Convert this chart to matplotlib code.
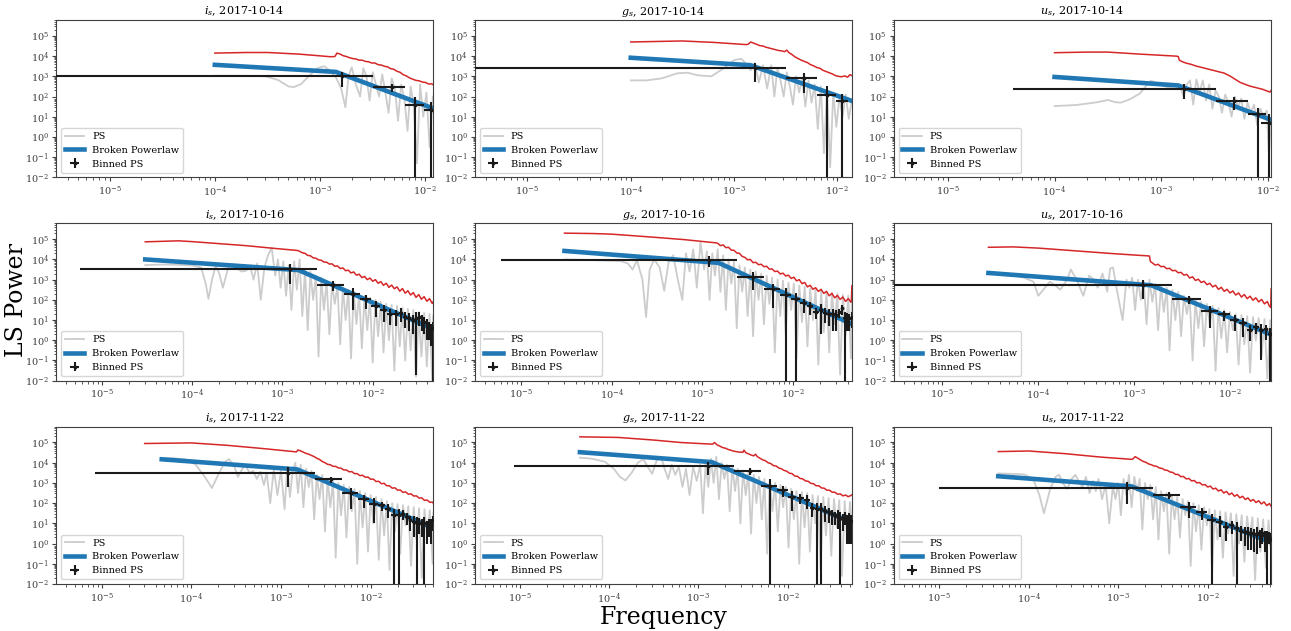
import numpy as np
import matplotlib.pyplot as plt
from matplotlib.ticker import LogLocator, NullFormatter

plt.rcParams.update({'font.family': 'serif',
                     'font.serif': ['DejaVu Serif'],
                     'mathtext.fontset': 'dejavuserif',
                     'xtick.labelsize': 7,
                     'ytick.labelsize': 7,
                     'legend.fontsize': 7,
                     'axes.titlesize': 8,
                     'axes.edgecolor': '0.25',
                     'xtick.color': '0.25',
                     'ytick.color': '0.25',
                     'axes.linewidth': 0.8})

# ---------------- data (log10 frequency / log10 power) ----------------
# 2017-10-14
ps_lf_i14 = [-4.00, -3.80, -3.60, -3.52, -3.40, -3.30, -3.25, -3.18, -3.10, -3.02, -2.96, -2.90, -2.85, -2.80,
             -2.76, -2.73, -2.70, -2.66, -2.62, -2.59, -2.56, -2.53, -2.50, -2.47, -2.44, -2.41, -2.38, -2.35,
             -2.32, -2.29, -2.26, -2.23, -2.20, -2.17, -2.14, -2.11, -2.08, -2.05, -2.02, -1.99, -1.96, -1.93]
ps_lp_i14 = [3.03, 3.03, 3.02, 3.00, 2.82, 2.50, 2.47, 2.62, 3.05, 3.42, 3.50, 3.25, 2.95, 2.40,
             1.47, 3.00, 3.45, 2.60, 2.00, 3.40, 3.00, 1.80, 3.20, 2.60, 2.00, 3.10, 2.20, 1.20,
             2.90, 2.40, 0.80, 2.60, 1.90, 0.30, 2.50, 1.50, -1.30, 2.60, 1.00, 2.20, -0.50, 2.00]
red_lf_i14 = [-4.00, -3.70, -3.50, -3.20, -2.90, -2.86, -2.84, -2.81, -2.78, -2.75, -2.72, -2.69, -2.66, -2.63,
              -2.60, -2.57, -2.54, -2.51, -2.48, -2.45, -2.42, -2.39, -2.36, -2.33, -2.30, -2.27, -2.24, -2.21,
              -2.18, -2.15, -2.12, -2.09, -2.06, -2.03, -2.00, -1.97, -1.94, -1.925]
red_lp_i14 = [4.15, 4.18, 4.18, 4.10, 3.97, 3.98, 4.15, 4.10, 4.02, 3.98, 3.92, 3.88, 3.86, 3.80,
              3.80, 3.74, 3.72, 3.66, 3.66, 3.58, 3.56, 3.50, 3.47, 3.38, 3.35, 3.25, 3.20, 3.08,
              3.02, 2.92, 2.86, 2.80, 2.78, 2.72, 2.70, 2.62, 2.63, 2.58]
bpl_lf_i14 = [-4.00, -2.85, -1.92]
bpl_lp_i14 = [3.57, 3.22, 1.40]
bin_f_i14 = [1.6, 4.8, 8.0, 11.2]        # 1e-3
bin_p_i14 = [1000, 300, 40, 22]
bin_e_i14 = [700, 125, 60, 34]

ps_lf_g14 = [-4.00, -3.85, -3.70, -3.55, -3.45, -3.35, -3.22, -3.10, -3.00, -2.93, -2.88, -2.84, -2.80, -2.76,
             -2.72, -2.68, -2.64, -2.61, -2.58, -2.55, -2.52, -2.49, -2.46, -2.43, -2.40, -2.37, -2.34, -2.31,
             -2.28, -2.25, -2.22, -2.19, -2.16, -2.13, -2.10, -2.07, -2.04, -2.01, -1.98, -1.95, -1.92, -1.89, -1.86]
ps_lp_g14 = [2.80, 2.80, 2.90, 3.15, 3.18, 3.05, 3.00, 3.40, 3.80, 3.87, 3.60, 3.30, 3.65, 2.70,
             3.55, 2.40, 3.55, 2.00, 3.40, 2.80, 2.00, 3.20, 2.50, 1.60, 3.00, 2.20, 2.90, 1.50,
             2.80, 1.70, 2.60, 0.40, 2.50, -0.80, 2.30, -1.50, 2.20, 0.50, 2.00, 1.00, 2.10, 0.90, 1.80]
red_lf_g14 = [-4.00, -3.70, -3.50, -3.20, -2.88, -2.86, -2.84, -2.81, -2.78, -2.75, -2.72, -2.69, -2.66, -2.63,
              -2.60, -2.57, -2.54, -2.51, -2.49, -2.47, -2.44, -2.41, -2.38, -2.35, -2.32, -2.29, -2.26, -2.23,
              -2.20, -2.17, -2.14, -2.11, -2.08, -2.05, -2.02, -1.99, -1.96, -1.93, -1.90, -1.88, -1.86]
red_lp_g14 = [4.70, 4.73, 4.75, 4.68, 4.57, 4.60, 4.70, 4.64, 4.58, 4.52, 4.50, 4.44, 4.40, 4.36,
              4.32, 4.28, 4.26, 4.22, 4.30, 4.18, 4.08, 3.96, 3.88, 3.80, 3.74, 3.68, 3.58, 3.52,
              3.44, 3.40, 3.30, 3.24, 3.18, 3.12, 3.04, 3.00, 2.98, 3.02, 2.96, 3.08, 3.04]
bpl_lf_g14 = [-4.00, -2.84, -1.857]
bpl_lp_g14 = [3.92, 3.55, 1.78]
bin_f_g14 = [1.6, 4.8, 8.0, 11.2]
bin_p_g14 = [2500, 800, 120, 60]
bin_e_g14 = [2000, 650, 200, 70]

ps_lf_u14 = [-4.00, -3.80, -3.60, -3.50, -3.43, -3.38, -3.30, -3.20, -3.15, -3.10, -3.05, -3.00, -2.93, -2.87,
             -2.82, -2.79, -2.76, -2.73, -2.70, -2.67, -2.64, -2.61, -2.58, -2.55, -2.52, -2.49, -2.46, -2.43,
             -2.40, -2.37, -2.34, -2.31, -2.28, -2.25, -2.22, -2.19, -2.16, -2.13, -2.10, -2.07, -2.04, -2.01,
             -1.99, -1.97]
ps_lp_u14 = [1.53, 1.58, 1.72, 1.83, 1.72, 1.70, 1.85, 2.15, 2.47, 2.78, 2.70, 2.55, 2.45, 2.50,
             2.45, 2.00, 2.60, 2.80, 1.60, 2.85, 2.20, 2.80, 1.80, 2.60, 1.40, 2.30, 2.00, 1.20,
             2.10, 1.70, 1.00, 2.00, 1.50, 1.90, 0.90, 1.70, 1.20, 1.60, 0.60, 1.40, 1.00, 1.30,
             -0.90, 0.80]
red_lf_u14 = [-4.00, -3.70, -3.50, -3.20, -2.86, -2.84, -2.83, -2.80, -2.77, -2.74, -2.71, -2.68, -2.65, -2.62,
              -2.59, -2.56, -2.53, -2.50, -2.47, -2.44, -2.41, -2.38, -2.35, -2.32, -2.29, -2.26, -2.23, -2.20,
              -2.17, -2.14, -2.11, -2.08, -2.05, -2.02, -1.99, -1.98, -1.97]
red_lp_u14 = [4.17, 4.20, 4.20, 4.10, 4.00, 3.98, 3.80, 3.72, 3.66, 3.62, 3.58, 3.52, 3.48, 3.44,
              3.40, 3.36, 3.32, 3.28, 3.24, 3.20, 3.16, 3.08, 3.00, 2.90, 2.80, 2.70, 2.64, 2.58,
              2.52, 2.48, 2.44, 2.40, 2.36, 2.30, 2.24, 2.22, 2.30]
bpl_lf_u14 = [-4.00, -2.84, -1.97]
bpl_lp_u14 = [2.97, 2.55, 0.85]
bin_f_u14 = [1.65, 4.85, 8.1, 10.2]
bin_p_u14 = [240, 60, 14, 5]
bin_e_u14 = [160, 38, 14, 8]

# 2017-10-16
ps_lf_i16 = [-4.52, -4.30, -4.10, -4.00, -3.90, -3.85, -3.82, -3.78, -3.74, -3.70, -3.66, -3.60, -3.55, -3.50,
             -3.45, -3.40, -3.36, -3.32, -3.28, -3.24, -3.20, -3.16, -3.12, -3.08, -3.05, -3.02, -2.99, -2.96,
             -2.93, -2.90, -2.87, -2.84, -2.81, -2.78, -2.75, -2.72, -2.69, -2.66, -2.63, -2.60, -2.57, -2.54,
             -2.51, -2.48, -2.45, -2.42, -2.39, -2.36, -2.33, -2.30, -2.27, -2.24, -2.21, -2.18, -2.15, -2.12,
             -2.09, -2.06, -2.03, -2.00, -1.97, -1.94, -1.91, -1.88, -1.85, -1.82, -1.79, -1.76, -1.73, -1.70,
             -1.67, -1.64, -1.61, -1.58, -1.55, -1.52, -1.49, -1.46, -1.43, -1.40, -1.37, -1.34, -1.33]
ps_lp_i16 = [3.72, 3.75, 3.72, 3.70, 3.60, 2.80, 2.05, 3.00, 3.70, 3.30, 2.60, 3.60, 3.78, 3.55,
             3.40, 3.45, 3.70, 3.00, 3.80, 2.00, 3.60, 4.20, 4.58, 3.20, 4.00, 2.60, 3.90, 2.20,
             3.70, 1.50, 3.90, 2.50, 4.00, 1.20, 3.50, 0.50, 3.40, 2.00, 3.20, -0.80, 3.10, 1.50,
             2.90, 0.30, 2.80, 1.80, 2.70, -0.20, 2.60, 1.00, 2.50, -0.90, 2.40, 0.80, 2.30, -0.40,
             2.20, 0.50, 2.10, -1.10, 2.00, 0.20, 1.90, -0.60, 1.80, 0.00, 1.75, -1.50, 1.70, -0.30,
             1.60, -1.00, 1.55, -0.50, 1.50, -1.80, 1.40, -0.80, 1.35, -1.30, 1.30, -2.00, 1.20]
red_lf_i16 = [-4.52, -4.30, -4.15, -4.00, -3.70, -3.40, -3.10, -2.85, -2.83, -2.81, -2.78, -2.75, -2.72, -2.69,
              -2.66, -2.63, -2.60, -2.57, -2.54, -2.51, -2.48, -2.45, -2.42, -2.39, -2.36, -2.33, -2.30, -2.27,
              -2.24, -2.21, -2.18, -2.15, -2.12, -2.09, -2.06, -2.03, -2.00, -1.97, -1.94, -1.91, -1.88, -1.85,
              -1.82, -1.79, -1.76, -1.73, -1.70, -1.67, -1.64, -1.61, -1.58, -1.55, -1.52, -1.49, -1.46, -1.43,
              -1.40, -1.37, -1.34, -1.33]
red_lp_i16 = [4.87, 4.90, 4.92, 4.88, 4.78, 4.68, 4.55, 4.45, 4.44, 4.40, 4.33, 4.30, 4.20, 4.18,
              4.08, 4.06, 3.98, 3.96, 3.87, 3.86, 3.77, 3.78, 3.66, 3.68, 3.55, 3.58, 3.44, 3.47,
              3.33, 3.38, 3.22, 3.27, 3.10, 3.16, 3.00, 3.08, 2.92, 3.00, 2.82, 2.90, 2.72, 2.82,
              2.62, 2.73, 2.55, 2.64, 2.43, 2.56, 2.33, 2.45, 2.24, 2.36, 2.12, 2.26, 2.03, 2.16,
              1.93, 2.06, 1.82, 1.90]
bpl_lf_i16 = [-4.52, -2.82, -1.33]
bpl_lp_i16 = [4.00, 3.47, 0.55]
bin_f_i16 = [1.215, 3.63, 6.05, 8.47, 10.9, 13.3, 15.7, 18.2, 20.6, 23.0, 25.4, 27.8, 30.3, 32.7,
             35.1, 37.5, 39.9, 42.3, 44.8, 47.0]
bin_p_i16 = [3200, 560, 200, 107, 50, 32, 21, 19, 23, 15, 13, 10, 12, 15, 10, 8, 6, 4.5, 3.5, 4]
bin_e_i16 = [2600, 300, 170, 70, 35, 24, 15, 14, 15, 11, 10, 8, 11.98, 10, 7, 6, 5, 3.5, 3, 3.99]

ps_lf_g16 = [-4.52, -4.30, -4.10, -3.90, -3.82, -3.77, -3.72, -3.66, -3.62, -3.58, -3.53, -3.47, -3.42, -3.37,
             -3.32, -3.27, -3.22, -3.18, -3.14, -3.10, -3.06, -3.02, -2.98, -2.95, -2.92, -2.89, -2.86, -2.83,
             -2.80, -2.77, -2.74, -2.71, -2.68, -2.65, -2.62, -2.59, -2.56, -2.53, -2.50, -2.47, -2.44, -2.41,
             -2.38, -2.35, -2.32, -2.29, -2.26, -2.23, -2.20, -2.17, -2.14, -2.11, -2.08, -2.05, -2.02, -1.99,
             -1.96, -1.93, -1.90, -1.87, -1.84, -1.81, -1.78, -1.75, -1.72, -1.69, -1.66, -1.63, -1.60, -1.57,
             -1.54, -1.51, -1.48, -1.45, -1.42, -1.39, -1.36, -1.35]
ps_lp_g16 = [4.00, 3.98, 3.95, 3.92, 3.80, 3.50, 3.95, 3.00, 1.15, 3.50, 4.00, 3.60, 2.45, 3.90,
             4.20, 3.00, 2.00, 4.30, 3.40, 4.50, 2.60, 4.85, 3.50, 4.40, 2.00, 4.30, 3.20, 4.50,
             2.40, 4.20, 1.50, 4.00, 2.80, 3.90, 0.60, 3.70, 2.40, 3.60, 1.20, 3.50, 0.20, 3.40,
             2.00, 3.30, 0.80, 3.20, 1.80, 3.10, -0.60, 3.00, 1.20, 2.95, 0.30, 2.85, 1.50, 2.80,
             -0.90, 2.70, 0.90, 2.65, -0.30, 2.55, 1.00, 2.50, -1.20, 2.45, 0.40, 2.40, -0.60, 2.35,
             0.80, 2.30, -1.70, 2.25, 0.20, 2.20, -0.90, 2.10]
red_lf_g16 = [-4.52, -4.20, -4.00, -3.60, -3.20, -2.85, -2.83, -2.80, -2.77, -2.74, -2.71, -2.68, -2.65, -2.62,
              -2.59, -2.56, -2.53, -2.50, -2.47, -2.44, -2.41, -2.38, -2.35, -2.32, -2.29, -2.26, -2.23, -2.20,
              -2.17, -2.14, -2.11, -2.08, -2.05, -2.02, -1.99, -1.96, -1.93, -1.90, -1.87, -1.84, -1.81, -1.78,
              -1.75, -1.72, -1.69, -1.66, -1.63, -1.60, -1.57, -1.54, -1.51, -1.48, -1.45, -1.42, -1.39, -1.36,
              -1.355, -1.35]
red_lp_g16 = [5.30, 5.28, 5.25, 5.12, 4.98, 4.82, 4.80, 4.68, 4.72, 4.58, 4.60, 4.46, 4.45, 4.32,
              4.30, 4.15, 4.10, 3.98, 4.00, 3.84, 3.86, 3.74, 3.76, 3.64, 3.66, 3.52, 3.53, 3.40,
              3.42, 3.28, 3.32, 3.18, 3.22, 3.06, 3.12, 2.94, 3.00, 2.80, 2.86, 2.64, 2.72, 2.52,
              2.60, 2.42, 2.52, 2.32, 2.42, 2.20, 2.32, 2.10, 2.22, 2.02, 2.14, 1.92, 2.06, 1.88,
              2.00, 2.70]
bpl_lf_g16 = [-4.52, -2.82, -1.35]
bpl_lp_g16 = [4.42, 3.83, 0.80]
bin_f_g16 = [1.2, 3.6, 6.0, 8.4, 10.8, 13.2, 15.6, 18.0, 20.4, 22.8, 25.2, 27.6, 30.0, 32.4,
             34.8, 37.2, 39.6, 42.0, 44.4]
bin_p_g16 = [9000, 1300, 340, 180, 107, 68, 47, 26, 32, 23, 20, 20, 17, 24, 38, 12, 13, 12, 14]
bin_e_g16 = [5000, 1000, 300, 185, 110, 45, 30, 15, 30, 16, 15, 17, 14, 12, 20, 11.99, 10, 9, 10]

ps_lf_u16 = [-4.52, -4.30, -4.15, -4.05, -4.00, -3.93, -3.88, -3.82, -3.77, -3.70, -3.66, -3.60, -3.53, -3.47,
             -3.42, -3.38, -3.33, -3.28, -3.25, -3.22, -3.18, -3.12, -3.08, -3.05, -3.02, -2.99, -2.96, -2.93,
             -2.90, -2.87, -2.84, -2.81, -2.78, -2.75, -2.72, -2.69, -2.66, -2.63, -2.60, -2.57, -2.54, -2.51,
             -2.48, -2.45, -2.42, -2.39, -2.36, -2.33, -2.30, -2.27, -2.24, -2.21, -2.18, -2.15, -2.12, -2.09,
             -2.06, -2.03, -2.00, -1.97, -1.94, -1.91, -1.88, -1.85, -1.82, -1.79, -1.76, -1.73, -1.70, -1.67,
             -1.64, -1.61, -1.58, -1.57]
ps_lp_u16 = [3.30, 3.25, 3.10, 2.90, 2.20, 2.60, 2.90, 2.70, 2.50, 3.00, 3.50, 3.00, 2.20, 3.20,
             3.00, 2.60, 3.30, 2.40, 3.55, 3.60, 2.50, 1.00, 3.00, 2.60, 3.10, 1.50, 3.00, 2.00,
             2.90, 0.80, 3.00, 1.90, 2.80, 0.50, 2.70, 1.40, 2.60, -0.50, 2.50, 1.00, 2.40, 0.20,
             2.20, 1.30, 2.10, -1.00, 2.00, 0.60, 1.90, -0.30, 1.80, 0.80, 1.70, -1.50, 1.60, 0.10,
             1.50, -0.60, 1.40, 0.50, 1.30, -1.20, 1.25, -0.20, 1.20, -1.60, 1.15, 0.00, 1.10, -0.80,
             1.05, -1.90, 1.00, 0.00]
red_lf_u16 = [-4.52, -4.26, -4.00, -3.60, -3.20, -2.84, -2.83, -2.81, -2.78, -2.75, -2.72, -2.69, -2.66, -2.63,
              -2.60, -2.57, -2.54, -2.51, -2.48, -2.45, -2.42, -2.39, -2.36, -2.33, -2.30, -2.27, -2.24, -2.21,
              -2.18, -2.15, -2.12, -2.09, -2.06, -2.03, -2.00, -1.97, -1.94, -1.91, -1.88, -1.85, -1.82, -1.79,
              -1.76, -1.73, -1.70, -1.67, -1.64, -1.61, -1.59, -1.575, -1.57]
red_lp_u16 = [4.60, 4.62, 4.56, 4.42, 4.28, 4.17, 3.90, 3.83, 3.72, 3.76, 3.64, 3.66, 3.54, 3.56,
              3.44, 3.46, 3.34, 3.36, 3.22, 3.26, 3.08, 3.14, 2.96, 3.02, 2.86, 2.92, 2.75, 2.82,
              2.64, 2.72, 2.52, 2.62, 2.42, 2.52, 2.34, 2.44, 2.24, 2.34, 2.14, 2.26, 2.06, 2.18,
              1.98, 2.10, 1.90, 2.02, 1.80, 1.92, 1.70, 1.62, 2.55]
bpl_lf_u16 = [-4.52, -2.82, -1.57]
bpl_lp_u16 = [3.33, 2.72, 0.28]
bin_f_u16 = [1.25, 3.75, 6.25, 8.75, 11.3, 13.8, 16.3, 18.8, 21.3, 23.8, 26.0]
bin_p_u16 = [560, 110, 28, 19, 10, 7, 3.4, 4.5, 3.4, 3.5, 2.0]
bin_e_u16 = [450, 50, 24, 10, 7, 5.5, 2.5, 2.5, 3.3, 2.5, 1.99]

# 2017-11-22
ps_lf_i22 = [-4.33, -4.20, -4.05, -3.95, -3.85, -3.77, -3.70, -3.63, -3.58, -3.52, -3.48, -3.43, -3.40, -3.35,
             -3.31, -3.27, -3.23, -3.19, -3.16, -3.12, -3.08, -3.04, -3.00, -2.96, -2.93, -2.90, -2.87, -2.84,
             -2.81, -2.78, -2.75, -2.72, -2.69, -2.66, -2.63, -2.60, -2.57, -2.54, -2.51, -2.48, -2.45, -2.42,
             -2.39, -2.36, -2.33, -2.30, -2.27, -2.24, -2.21, -2.18, -2.15, -2.12, -2.09, -2.06, -2.03, -2.00,
             -1.97, -1.94, -1.91, -1.88, -1.85, -1.82, -1.79, -1.76, -1.73, -1.70, -1.67, -1.64, -1.61, -1.58,
             -1.55, -1.52, -1.49, -1.46, -1.43, -1.40, -1.37, -1.34, -1.31, -1.30]
ps_lp_i22 = [4.20, 4.22, 4.15, 3.90, 3.30, 2.75, 3.40, 4.00, 4.18, 3.80, 3.30, 3.70, 3.90, 3.50,
             3.60, 3.20, 3.55, 2.90, 3.50, 2.00, 3.70, 2.40, 3.60, 1.70, 3.80, 2.30, 3.60, 4.00,
             2.50, 3.90, 1.80, 3.70, 2.80, 3.60, 1.20, 3.40, 2.20, 3.40, 0.60, 3.20, 1.80, 3.10,
             -0.70, 3.00, 1.40, 2.90, 0.30, 2.80, 1.60, 2.70, -1.00, 2.60, 0.80, 2.50, -0.40, 2.40,
             1.00, 2.30, -0.80, 2.20, 0.40, 2.10, -1.30, 2.00, 0.60, 1.95, -0.50, 1.90, 0.90, 1.85,
             -1.10, 1.80, 0.20, 1.75, -1.70, 1.70, 0.40, 1.65, -1.00, 1.55]
red_lf_i22 = [-4.52, -4.00, -3.60, -3.20, -2.86, -2.83, -2.81, -2.78, -2.75, -2.72, -2.69, -2.66, -2.63, -2.60,
              -2.57, -2.54, -2.51, -2.48, -2.45, -2.42, -2.39, -2.36, -2.33, -2.30, -2.27, -2.24, -2.21, -2.18,
              -2.15, -2.12, -2.09, -2.06, -2.03, -2.00, -1.97, -1.94, -1.91, -1.88, -1.85, -1.82, -1.79, -1.76,
              -1.73, -1.70, -1.67, -1.64, -1.61, -1.58, -1.55, -1.52, -1.49, -1.46, -1.43, -1.40, -1.37, -1.34,
              -1.31, -1.30]
red_lp_i22 = [4.95, 4.98, 4.86, 4.70, 4.55, 4.53, 4.63, 4.58, 4.52, 4.46, 4.42, 4.36, 4.30, 4.22,
              4.16, 4.06, 4.00, 3.92, 3.90, 3.82, 3.82, 3.74, 3.73, 3.64, 3.64, 3.55, 3.56, 3.46,
              3.46, 3.36, 3.38, 3.28, 3.29, 3.18, 3.19, 3.07, 3.08, 2.96, 2.98, 2.86, 2.86, 2.74,
              2.76, 2.64, 2.65, 2.53, 2.56, 2.44, 2.46, 2.35, 2.36, 2.25, 2.26, 2.14, 2.15, 2.04,
              2.05, 1.98]
bpl_lf_i22 = [-4.33, -2.82, -1.30]
bpl_lp_i22 = [4.17, 3.67, 0.78]
bin_f_i22 = [1.21, 3.62, 6.03, 8.44, 10.85, 13.26, 15.67, 18.08, 20.49, 22.9, 25.31, 27.72, 30.13, 32.54,
             34.95, 37.36, 39.77, 42.18, 44.59, 47.0, 49.41]
bin_p_i22 = [3200, 1500, 320, 160, 90, 80, 54, 25, 25, 30, 20, 14, 12, 10, 11, 9, 10, 7, 9, 9, 14]
bin_e_i22 = [2600, 500, 270, 100, 80, 40, 35, 25, 25, 15, 12, 10, 10, 10, 8, 7, 10, 6, 7, 8, 10]

ps_lf_g22 = [-4.33, -4.20, -4.05, -3.95, -3.88, -3.82, -3.75, -3.68, -3.62, -3.57, -3.52, -3.47, -3.42, -3.38,
             -3.34, -3.30, -3.26, -3.22, -3.18, -3.14, -3.10, -3.06, -3.02, -2.98, -2.95, -2.92, -2.89, -2.86,
             -2.83, -2.80, -2.77, -2.74, -2.71, -2.68, -2.65, -2.62, -2.59, -2.56, -2.53, -2.50, -2.47, -2.44,
             -2.41, -2.38, -2.35, -2.32, -2.29, -2.26, -2.23, -2.20, -2.17, -2.14, -2.11, -2.08, -2.05, -2.02,
             -1.99, -1.96, -1.93, -1.90, -1.87, -1.84, -1.81, -1.78, -1.75, -1.72, -1.69, -1.66, -1.63, -1.60,
             -1.57, -1.54, -1.51, -1.48, -1.45, -1.42, -1.39, -1.36, -1.33, -1.30, -1.275]
ps_lp_g22 = [4.25, 4.20, 4.05, 3.70, 3.30, 3.12, 3.50, 4.00, 4.18, 3.80, 3.45, 4.10, 4.30, 3.70,
             3.20, 3.90, 3.40, 3.80, 2.80, 3.70, 2.40, 3.80, 3.10, 3.90, 1.50, 4.00, 2.80, 4.20,
             3.00, 4.30, 2.20, 4.00, 3.20, 3.90, 1.60, 3.80, 2.60, 3.70, 1.00, 3.60, 2.40, 3.50,
             0.50, 3.40, 2.00, 3.30, 1.20, 3.20, -0.50, 3.10, 1.60, 3.00, 0.60, 2.90, 1.80, 2.80,
             -0.20, 2.70, 1.20, 2.60, -1.00, 2.55, 0.80, 2.50, -0.40, 2.40, 1.00, 2.35, -1.30, 2.30,
             0.40, 2.25, -0.60, 2.20, 0.80, 2.15, -1.60, 2.10, 0.20, 2.05, 0.50]
red_lf_g22 = [-4.33, -3.90, -3.50, -3.20, -2.86, -2.84, -2.82, -2.79, -2.76, -2.73, -2.70, -2.67, -2.64, -2.61,
              -2.58, -2.55, -2.52, -2.50, -2.49, -2.47, -2.44, -2.41, -2.38, -2.36, -2.34, -2.31, -2.28, -2.25,
              -2.22, -2.19, -2.16, -2.13, -2.10, -2.07, -2.04, -2.01, -1.98, -1.95, -1.92, -1.89, -1.86, -1.83,
              -1.80, -1.77, -1.74, -1.71, -1.68, -1.65, -1.62, -1.59, -1.56, -1.53, -1.50, -1.47, -1.44, -1.41,
              -1.38, -1.35, -1.32, -1.29, -1.275]
red_lp_g22 = [5.28, 5.25, 5.12, 5.00, 4.92, 4.92, 5.00, 4.88, 4.82, 4.75, 4.72, 4.66, 4.62, 4.58,
              4.55, 4.53, 4.52, 4.52, 4.62, 4.50, 4.44, 4.38, 4.34, 4.42, 4.30, 4.22, 4.14, 4.10,
              4.00, 3.96, 3.86, 3.84, 3.74, 3.70, 3.62, 3.58, 3.48, 3.46, 3.34, 3.33, 3.22, 3.20,
              3.10, 3.08, 2.98, 2.96, 2.86, 2.86, 2.75, 2.74, 2.64, 2.64, 2.54, 2.54, 2.44, 2.46,
              2.36, 2.40, 2.32, 2.38, 2.42]
bpl_lf_g22 = [-4.33, -2.85, -1.275]
bpl_lp_g22 = [4.52, 4.03, 1.03]
bin_f_g22 = [1.265, 3.78, 6.30, 8.82, 11.3, 13.9, 16.4, 18.9, 21.4, 23.9, 26.5, 29.0, 31.5, 34.0,
             36.5, 39.1, 41.6, 44.1, 46.6, 49.1, 51.7]
bin_p_g22 = [6500, 4000, 740, 450, 210, 190, 150, 60, 50, 52, 42, 35, 28, 23, 25, 19, 16, 22, 14, 16, 13]
bin_e_g22 = [4000, 1600, 745, 250, 170, 100, 100, 40, 49.99, 51.99, 30, 25, 20, 15, 20, 18.99, 12, 14, 13, 15, 12]

ps_lf_u22 = [-4.34, -4.20, -4.05, -3.95, -3.88, -3.83, -3.76, -3.70, -3.66, -3.62, -3.57, -3.52, -3.48, -3.43,
             -3.40, -3.36, -3.32, -3.28, -3.25, -3.22, -3.18, -3.14, -3.10, -3.06, -3.03, -3.00, -2.97, -2.94,
             -2.91, -2.88, -2.85, -2.82, -2.79, -2.76, -2.73, -2.70, -2.67, -2.64, -2.61, -2.58, -2.55, -2.52,
             -2.49, -2.46, -2.43, -2.40, -2.37, -2.34, -2.31, -2.28, -2.25, -2.22, -2.19, -2.16, -2.13, -2.10,
             -2.07, -2.04, -2.01, -1.98, -1.95, -1.92, -1.89, -1.86, -1.83, -1.80, -1.77, -1.74, -1.71, -1.68,
             -1.65, -1.62, -1.59, -1.56, -1.53, -1.50, -1.47, -1.44, -1.41, -1.38, -1.35, -1.32, -1.29]
ps_lp_u22 = [3.47, 3.45, 3.42, 3.20, 2.40, 1.50, 2.70, 3.30, 3.40, 3.00, 2.70, 3.20, 3.40, 3.00,
             2.80, 3.30, 2.50, 3.10, 2.60, 3.20, 2.20, 2.90, 1.00, 2.80, 2.20, 3.00, 1.40, 3.20,
             2.40, 3.40, 1.80, 3.30, 2.60, 3.20, 0.70, 3.00, 2.20, 2.90, 1.20, 2.80, 0.20, 2.60,
             1.60, 2.50, -0.50, 2.40, 1.20, 2.30, 0.30, 2.20, 1.40, 2.10, -1.10, 2.00, 0.60, 1.90,
             -0.30, 1.80, 0.90, 1.70, -1.40, 1.65, 0.20, 1.60, -0.70, 1.55, 0.50, 1.50, -1.60, 1.45,
             0.00, 1.40, -0.90, 1.35, 0.30, 1.30, -1.80, 1.25, -0.40, 1.20, -1.20, 1.15, -0.50]
red_lf_u22 = [-4.34, -4.00, -3.60, -3.20, -2.86, -2.84, -2.81, -2.78, -2.75, -2.72, -2.69, -2.66, -2.63, -2.60,
              -2.57, -2.54, -2.51, -2.48, -2.45, -2.42, -2.39, -2.36, -2.33, -2.30, -2.27, -2.24, -2.21, -2.18,
              -2.15, -2.12, -2.09, -2.06, -2.03, -2.00, -1.97, -1.94, -1.91, -1.88, -1.85, -1.82, -1.79, -1.76,
              -1.73, -1.70, -1.67, -1.64, -1.61, -1.58, -1.55, -1.52, -1.49, -1.46, -1.43, -1.40, -1.37, -1.34,
              -1.31, -1.29]
red_lp_u22 = [4.55, 4.58, 4.45, 4.28, 4.17, 4.17, 4.30, 4.22, 4.14, 4.06, 4.02, 3.94, 3.90, 3.84,
              3.82, 3.74, 3.72, 3.64, 3.62, 3.54, 3.52, 3.42, 3.42, 3.31, 3.32, 3.20, 3.22, 3.10,
              3.12, 3.00, 3.02, 2.90, 2.92, 2.80, 2.84, 2.70, 2.74, 2.60, 2.66, 2.50, 2.58, 2.42,
              2.50, 2.34, 2.42, 2.26, 2.34, 2.18, 2.26, 2.10, 2.18, 2.03, 2.12, 1.96, 2.06, 1.88,
              1.98, 1.84]
bpl_lf_u22 = [-4.34, -2.85, -1.29]
bpl_lp_u22 = [3.33, 2.83, 0.05]
bin_f_u22 = [1.24, 3.70, 6.17, 8.64, 11.1, 13.6, 16.0, 18.5, 21.0, 23.4, 25.9, 28.4, 30.8, 33.3,
             35.8, 38.2, 40.7, 43.2, 45.6, 48.1, 50.5]
bin_p_u22 = [590, 260, 68, 35, 15, 12, 6.3, 8, 5.6, 4.3, 3.8, 3.5, 3.3, 2.9, 3.3, 2.6, 3.5, 2.4, 2.0, 2.4, 1.6]
bin_e_u22 = [500, 100, 50, 20, 14.99, 10, 5, 5, 5.59, 3, 3, 3, 2.8, 2.5, 3, 2, 2.5, 2, 1.99, 1.5, 1.59]

# bin half width (1e-3), left edge of first bin, upper frequency of panel
panels = [
    ('i', '2017-10-14', ps_lf_i14, ps_lp_i14, red_lf_i14, red_lp_i14, bpl_lf_i14, bpl_lp_i14, bin_f_i14, bin_p_i14, bin_e_i14, 1.6, 1e-6, 1.19e-2),
    ('g', '2017-10-14', ps_lf_g14, ps_lp_g14, red_lf_g14, red_lp_g14, bpl_lf_g14, bpl_lp_g14, bin_f_g14, bin_p_g14, bin_e_g14, 1.6, 1e-6, 1.39e-2),
    ('u', '2017-10-14', ps_lf_u14, ps_lp_u14, red_lf_u14, red_lp_u14, bpl_lf_u14, bpl_lp_u14, bin_f_u14, bin_p_u14, bin_e_u14, 1.6, 4.1e-5, 1.07e-2),
    ('i', '2017-10-16', ps_lf_i16, ps_lp_i16, red_lf_i16, red_lp_i16, bpl_lf_i16, bpl_lp_i16, bin_f_i16, bin_p_i16, bin_e_i16, 1.21, 5.7e-6, 4.7e-2),
    ('g', '2017-10-16', ps_lf_g16, ps_lp_g16, red_lf_g16, red_lp_g16, bpl_lf_g16, bpl_lp_g16, bin_f_g16, bin_p_g16, bin_e_g16, 1.2, 6.0e-6, 4.5e-2),
    ('u', '2017-10-16', ps_lf_u16, ps_lp_u16, red_lf_u16, red_lp_u16, bpl_lf_u16, bpl_lp_u16, bin_f_u16, bin_p_u16, bin_e_u16, 1.25, 1e-6, 2.68e-2),
    ('i', '2017-11-22', ps_lf_i22, ps_lp_i22, red_lf_i22, red_lp_i22, bpl_lf_i22, bpl_lp_i22, bin_f_i22, bin_p_i22, bin_e_i22, 1.205, 8.4e-6, 5.0e-2),
    ('g', '2017-11-22', ps_lf_g22, ps_lp_g22, red_lf_g22, red_lp_g22, bpl_lf_g22, bpl_lp_g22, bin_f_g22, bin_p_g22, bin_e_g22, 1.26, 8.6e-6, 5.3e-2),
    ('u', '2017-11-22', ps_lf_u22, ps_lp_u22, red_lf_u22, red_lp_u22, bpl_lf_u22, bpl_lp_u22, bin_f_u22, bin_p_u22, bin_e_u22, 1.235, 1.0e-5, 5.1e-2),
]

fig, axes = plt.subplots(3, 3, figsize=(12.91, 6.31), dpi=100)
plt.subplots_adjust(left=0.0434, right=0.9845, bottom=0.0745, top=0.968, wspace=0.11, hspace=0.293)

for ax, p in zip(axes.flat, panels):
    band, night, ps_lf, ps_lp, red_lf, red_lp, bpl_lf, bpl_lp, bf, bp, be, hw, edge0, fmax = p
    ax.plot(10 ** np.array(ps_lf), 10 ** np.array(ps_lp), color='0.8', lw=1.3, label='PS')
    ax.plot(10 ** np.array(red_lf), 10 ** np.array(red_lp), color='tab:red', lw=1.1)
    ax.plot(10 ** np.array(bpl_lf), 10 ** np.array(bpl_lp), color='tab:blue', lw=3.3, label='Broken Powerlaw')
    f = np.array(bf) * 1e-3
    xlo = np.full(len(f), hw * 1e-3)
    xlo[0] = f[0] - edge0
    xhi = np.full(len(f), hw * 1e-3)
    ax.errorbar(f, bp, xerr=[xlo, xhi], yerr=be, fmt='.', color='0.1', ms=3.5,
                elinewidth=1.5, capsize=0, label='Binned PS', zorder=4)
    ax.set_xscale('log')
    ax.set_yscale('log')
    ax.set_xlim(3.1e-6, fmax)
    ax.set_ylim(1e-2, 6e5)
    ax.yaxis.set_major_locator(LogLocator(base=10, numticks=12))
    ax.yaxis.set_minor_locator(LogLocator(base=10, subs=np.arange(2, 10), numticks=12))
    ax.yaxis.set_minor_formatter(NullFormatter())
    ax.tick_params(which='major', length=3, width=0.8, pad=2)
    ax.tick_params(which='minor', length=1.8, width=0.6)
    ax.set_title('$%s_s$, %s' % (band, night), pad=4)
    ax.legend(loc='lower left', handlelength=2.0, borderaxespad=0.5)

fig.text(0.013, 0.525, 'LS Power', rotation=90, fontsize=17, ha='center', va='center')
fig.text(0.514, 0.022, 'Frequency', fontsize=17, ha='center', va='center')

plt.savefig('out.png', dpi=100)
